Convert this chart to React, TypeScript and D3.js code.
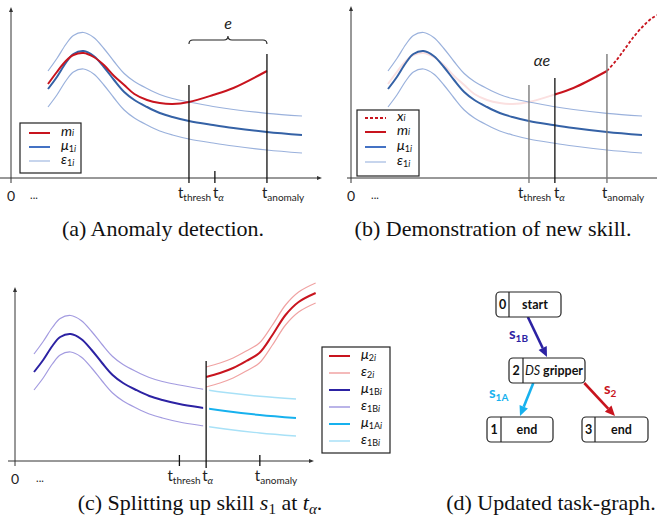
import React from 'react';
import * as d3 from 'd3';

// shared time samples for the skill model (t in % of the demo)
const T = [0, 3.5, 7, 10, 14, 18, 22, 26, 30, 34, 39, 44, 49, 55.5, 65, 73, 86.2, 100];
const MU1 = [89, 101, 115, 124, 127, 122, 111, 98, 86, 78, 71, 65, 61, 57, 53, 50, 46, 43];
const EPS1_UP = [107, 119.5, 133.5, 142.5, 145.5, 140.5, 129.5, 116.5, 104.5, 96.5, 89.5, 83.5, 79.5, 76, 71.5, 68.5, 64.7, 62];
const EPS1_LO = [71, 83, 97, 106, 109, 104, 93, 80, 68, 60, 53, 47, 43, 39, 35, 32, 28, 25];

// measured signal m_i (up to t_anomaly)
const M = [94, 106, 117, 123, 125, 121, 113, 102, 93, 84, 78, 75, 74, 76, 83, 90, 107];

// demonstrated continuation x_i
const XI_T = [86.2, 90, 93.5, 97, 100.5, 104, 107];
const XI = [107, 118, 130, 142, 152, 160, 164];

// new skill s2
const MU2_T = [65.7, 71, 76, 81, 86, 91, 96, 101, 107.5];
const MU2 = [84, 88, 93, 100, 108, 126, 146, 159, 168];
const EPS2_UP = [94, 98, 103, 110, 118, 136, 156, 169, 178];
const EPS2_LO = [74, 78, 83, 90, 98, 116, 136, 149, 158];

const T_THRESH = 55.5;
const T_ALPHA = 65.7;
const T_ANOMALY = 86.2;

// task graph
const NODE_IDS = ['0', '2', '1', '3'];
const NODE_LABELS = ['start', 'gripper', 'end', 'end'];
const EDGES = [
  { from: '0', to: '2', skill: '1B' },
  { from: '2', to: '1', skill: '1A' },
  { from: '2', to: '3', skill: '2' },
];

const FONT = "Lato, 'Noto Sans', sans-serif";
const SERIF = "'Liberation Serif', 'Times New Roman', serif";

const C = {
  red: '#c8141e',
  mu1: '#3562a6',
  mu1Leg: '#4472c4',
  eps1: '#9ab1dc',
  eps1Leg: '#b4c7e7',
  pink: '#fbe0e0',
  gray: '#7a7a7a',
  navy: '#2c22a3',
  epsB: '#a39be0',
  cyan: '#17b1ee',
  epsA: '#a8e1f7',
  eps2: '#f0a3a3',
  axis: '#333',
};

type P = [number, number];
const zip = (ts: number[], vs: number[]): P[] => vs.map((v, i) => [ts[i], v] as P);

function lineFor(x: d3.ScaleLinear<number, number>, y: d3.ScaleLinear<number, number>) {
  return d3.line<P>()
    .x((d) => x(d[0]))
    .y((d) => y(d[1]))
    .curve(d3.curveCatmullRom.alpha(0.5));
}

function TLabel({ x, y, sub, italicSub = false }: any) {
  return (
    <text x={x} y={y} fontFamily={FONT} fontSize={15} fill="#222">
      t
      <tspan dy={3} fontSize={10} fontStyle={italicSub ? 'italic' : 'normal'}>{sub}</tspan>
    </text>
  );
}

function Sym({ x, y, main, sub, tail }: any) {
  return (
    <text x={x} y={y} fontFamily={FONT} fontSize={14} fill="#111">
      <tspan fontStyle="italic">{main}</tspan>
      <tspan dy={2} fontSize={9}>{sub}</tspan>
      <tspan fontSize={9} fontStyle="italic">{tail}</tspan>
    </text>
  );
}

function Axes({ yx, yTop, ay, x0, x1, arrow }: any) {
  return (
    <g stroke={C.axis} strokeWidth={1}>
      <line x1={yx} y1={ay + 5} x2={yx} y2={yTop + 3} />
      <path d={`M${yx},${yTop} l-2,5 h4z`} fill={C.axis} stroke="none" />
      <line x1={x0} y1={ay} x2={x1 - (arrow ? 3 : 0)} y2={ay} />
      {arrow && <path d={`M${x1},${ay} l-5,-2 v4z`} fill={C.axis} stroke="none" />}
    </g>
  );
}

function Legend({ x, y, w, h, rows, lx, tx, dy }: any) {
  return (
    <g>
      <rect x={x} y={y} width={w} height={h} fill="#fff" stroke="#222" strokeWidth={1.2} />
      {rows.map((r: any, i: number) => (
        <g key={i}>
          <line x1={lx} x2={lx + 21} y1={y + dy[i]} y2={y + dy[i]} stroke={r.color}
            strokeWidth={r.w} strokeDasharray={r.dash || null} />
          <Sym x={tx} y={y + dy[i] + 3} main={r.main} sub={r.sub} tail={r.tail} />
        </g>
      ))}
    </g>
  );
}

function PanelA() {
  const x = d3.scaleLinear().domain([0, 100]).range([48, 302]);
  const y = d3.scaleLinear().domain([0, 100]).range([178, 78]);
  const ln = lineFor(x, y);
  const xm = (x(T_THRESH) + x(T_ANOMALY)) / 2;
  return (
    <g>
      <Axes yx={11} yTop={7} ay={178} x0={0} x1={322} arrow />
      <path d={ln(zip(T, EPS1_UP))!} fill="none" stroke={C.eps1} strokeWidth={1.2} />
      <path d={ln(zip(T, EPS1_LO))!} fill="none" stroke={C.eps1} strokeWidth={1.2} />
      <path d={ln(zip(T, MU1))!} fill="none" stroke={C.mu1} strokeWidth={2} />
      <path d={ln(zip(T, M))!} fill="none" stroke={C.red} strokeWidth={2} />
      <g stroke="#111" strokeWidth={1.3}>
        <line x1={x(T_THRESH)} x2={x(T_THRESH)} y1={y(93)} y2={183} />
        <line x1={x(T_ALPHA)} x2={x(T_ALPHA)} y1={171} y2={183} />
        <line x1={x(T_ANOMALY)} x2={x(T_ANOMALY)} y1={y(124)} y2={183} />
      </g>
      <path
        d={`M${x(T_THRESH)},44 Q${x(T_THRESH)},40 ${x(T_THRESH) + 4},40 L${xm - 4},40 Q${xm},40 ${xm},36 Q${xm},40 ${xm + 4},40 L${x(T_ANOMALY) - 4},40 Q${x(T_ANOMALY)},40 ${x(T_ANOMALY)},44`}
        fill="none" stroke="#222" strokeWidth={1.1} />
      <text x={xm} y={29} textAnchor="middle" fontFamily={FONT}
        fontStyle="italic" fontSize={16} fill="#222">e</text>
      <text x={11} y={201} textAnchor="middle" fontFamily={FONT} fontSize={14} fill="#222">0</text>
      <text x={34} y={199} textAnchor="middle" fontFamily={FONT} fontSize={11} fill="#222">...</text>
      <TLabel x={x(T_THRESH) - 11} y={198} sub="thresh" />
      <TLabel x={x(T_ALPHA) - 2} y={198} sub="α" italicSub />
      <TLabel x={x(T_ANOMALY) - 5} y={198} sub="anomaly" />
      <Legend x={20} y={123} w={61} h={50} lx={29} tx={61} dy={[10, 24, 38]}
        rows={[
          { color: C.red, w: 2, main: 'm', sub: '', tail: 'i' },
          { color: C.mu1Leg, w: 2, main: 'μ', sub: '1', tail: 'i' },
          { color: C.eps1Leg, w: 1.5, main: 'ε', sub: '1', tail: 'i' },
        ]} />
      <text x={163} y={236} textAnchor="middle" fontFamily={SERIF} fontSize={22} fill="#111">(a) Anomaly detection.</text>
    </g>
  );
}

function PanelB() {
  const x = d3.scaleLinear().domain([0, 100]).range([388, 642]);
  const y = d3.scaleLinear().domain([0, 100]).range([178, 78]);
  const ln = lineFor(x, y);
  const xa = x(T_ALPHA);
  return (
    <g>
      <defs>
        <clipPath id="b-pre"><rect x={330} y={0} width={xa - 330} height={260} /></clipPath>
        <clipPath id="b-post"><rect x={xa} y={0} width={700 - xa} height={260} /></clipPath>
      </defs>
      <Axes yx={351} yTop={6} ay={178} x0={347} x1={657} arrow={false} />
      <path d={ln(zip(T, M))!} fill="none" stroke={C.pink} strokeWidth={2} clipPath="url(#b-pre)" />
      <path d={ln(zip(T, EPS1_UP))!} fill="none" stroke={C.eps1} strokeWidth={1.2} />
      <path d={ln(zip(T, EPS1_LO))!} fill="none" stroke={C.eps1} strokeWidth={1.2} />
      <path d={ln(zip(T, MU1))!} fill="none" stroke={C.mu1} strokeWidth={2} />
      <path d={ln(zip(T, M))!} fill="none" stroke={C.red} strokeWidth={2} clipPath="url(#b-post)" />
      <path d={ln(zip(XI_T, XI))!} fill="none" stroke={C.red} strokeWidth={1.8} strokeDasharray="3,2" />
      <line x1={x(T_THRESH)} x2={x(T_THRESH)} y1={y(93)} y2={183} stroke={C.gray} strokeWidth={1.4} />
      <line x1={xa} x2={xa} y1={y(100)} y2={183} stroke="#111" strokeWidth={1.3} />
      <line x1={x(T_ANOMALY)} x2={x(T_ANOMALY)} y1={y(124)} y2={183} stroke={C.gray} strokeWidth={1.4} />
      <text x={(x(T_THRESH) + xa) / 2} y={66} textAnchor="middle" fontFamily={FONT}
        fontStyle="italic" fontSize={16} fill="#222">αe</text>
      <text x={351} y={201} textAnchor="middle" fontFamily={FONT} fontSize={14} fill="#222">0</text>
      <text x={375} y={199} textAnchor="middle" fontFamily={FONT} fontSize={11} fill="#222">...</text>
      <TLabel x={x(T_THRESH) - 11} y={198} sub="thresh" />
      <TLabel x={xa - 1} y={198} sub="α" italicSub />
      <TLabel x={x(T_ANOMALY) - 5} y={198} sub="anomaly" />
      <Legend x={357} y={110} w={62} h={66} lx={365} tx={397} dy={[8, 22, 37, 52]}
        rows={[
          { color: C.red, w: 1.8, dash: '3,2', main: 'x', sub: '', tail: 'i' },
          { color: C.red, w: 2, main: 'm', sub: '', tail: 'i' },
          { color: C.mu1Leg, w: 2, main: 'μ', sub: '1', tail: 'i' },
          { color: C.eps1Leg, w: 1.5, main: 'ε', sub: '1', tail: 'i' },
        ]} />
      <text x={493} y={236} textAnchor="middle" fontFamily={SERIF} fontSize={22} fill="#111">(b) Demonstration of new skill.</text>
    </g>
  );
}

function PanelC() {
  const x = d3.scaleLinear().domain([0, 100]).range([34, 296]);
  const y = d3.scaleLinear().domain([0, 100]).range([461, 361]);
  const ln = lineFor(x, y);
  const xa = x(T_ALPHA);
  return (
    <g>
      <defs>
        <clipPath id="c-pre"><rect x={0} y={270} width={xa - 3} height={200} /></clipPath>
        <clipPath id="c-post"><rect x={xa + 3} y={270} width={120} height={200} /></clipPath>
      </defs>
      <Axes yx={15} yTop={287} ay={461} x0={8} x1={314} arrow />
      <g clipPath="url(#c-pre)">
        <path d={ln(zip(T, EPS1_UP))!} fill="none" stroke={C.epsB} strokeWidth={1.2} />
        <path d={ln(zip(T, EPS1_LO))!} fill="none" stroke={C.epsB} strokeWidth={1.2} />
        <path d={ln(zip(T, MU1))!} fill="none" stroke={C.navy} strokeWidth={2} />
      </g>
      <g clipPath="url(#c-post)">
        <path d={ln(zip(T, EPS1_UP))!} fill="none" stroke={C.epsA} strokeWidth={1.4} />
        <path d={ln(zip(T, EPS1_LO))!} fill="none" stroke={C.epsA} strokeWidth={1.4} />
        <path d={ln(zip(T, MU1))!} fill="none" stroke={C.cyan} strokeWidth={2} />
      </g>
      <path d={ln(zip(MU2_T, EPS2_UP))!} fill="none" stroke={C.eps2} strokeWidth={1.2} />
      <path d={ln(zip(MU2_T, EPS2_LO))!} fill="none" stroke={C.eps2} strokeWidth={1.2} />
      <path d={ln(zip(MU2_T, MU2))!} fill="none" stroke={C.red} strokeWidth={2} />
      <g stroke="#111" strokeWidth={1.3}>
        <line x1={x(T_THRESH)} x2={x(T_THRESH)} y1={455} y2={466} />
        <line x1={xa} x2={xa} y1={y(100)} y2={468} />
        <line x1={x(T_ANOMALY)} x2={x(T_ANOMALY)} y1={455} y2={466} />
      </g>
      <text x={15} y={484} textAnchor="middle" fontFamily={FONT} fontSize={14} fill="#222">0</text>
      <text x={40} y={482} textAnchor="middle" fontFamily={FONT} fontSize={11} fill="#222">...</text>
      <TLabel x={x(T_THRESH) - 12} y={481} sub="thresh" />
      <TLabel x={xa - 4} y={481} sub="α" italicSub />
      <TLabel x={x(T_ANOMALY) - 5} y={481} sub="anomaly" />
      <Legend x={322} y={347} w={68} h={106} lx={329} tx={361} dy={[9, 26, 43, 60, 77, 94]}
        rows={[
          { color: C.red, w: 2, main: 'μ', sub: '2', tail: 'i' },
          { color: C.eps2, w: 1.5, main: 'ε', sub: '2', tail: 'i' },
          { color: C.navy, w: 2, main: 'μ', sub: '1B', tail: 'i' },
          { color: C.epsB, w: 1.5, main: 'ε', sub: '1B', tail: 'i' },
          { color: C.cyan, w: 2, main: 'μ', sub: '1A', tail: 'i' },
          { color: C.epsA, w: 1.5, main: 'ε', sub: '1B', tail: 'i' },
        ]} />
      <text x={200} y={510} textAnchor="middle" fontFamily={SERIF} fontSize={22} fill="#111">
        (c) Splitting up skill <tspan fontStyle="italic">s</tspan><tspan dy={4} fontSize={15}>1</tspan>
        <tspan dy={-4}> at </tspan><tspan fontStyle="italic">t</tspan><tspan dy={4} fontSize={15} fontStyle="italic">α</tspan><tspan dy={-4}>.</tspan>
      </text>
    </g>
  );
}

// layout of the task graph: x, y, width, divider offset
const NODE_BOX: Record<string, number[]> = {
  '0': [496, 292, 65, 13],
  '2': [509, 358, 76, 14],
  '1': [487, 417, 66, 14],
  '3': [582, 417, 66, 13],
};
const NODE_H = 25;
const EDGE_SRC_FRAC: Record<string, number> = { '1B': 0.49, '1A': 0.32, '2': 0.99 };
const EDGE_COLOR: Record<string, string> = { '1B': C.navy, '1A': C.cyan, '2': C.red };
const EDGE_LABEL_POS: Record<string, number[]> = { '1B': [509, 339], '1A': [489, 398], '2': [604, 394] };

function PanelD() {
  return (
    <g>
      {EDGES.map((e) => {
        const s = NODE_BOX[e.from];
        const t = NODE_BOX[e.to];
        const x1 = s[0] + s[2] * EDGE_SRC_FRAC[e.skill];
        const y1 = s[1] + NODE_H;
        const x2 = t[0] + t[2] / 2;
        const y2 = t[1] - 1;
        const a = Math.atan2(y2 - y1, x2 - x1);
        const L = 10, hw = 4.5;
        const bx = x2 - L * Math.cos(a), by = y2 - L * Math.sin(a);
        const px = -Math.sin(a) * hw, py = Math.cos(a) * hw;
        const col = EDGE_COLOR[e.skill];
        const lp = EDGE_LABEL_POS[e.skill];
        return (
          <g key={e.skill}>
            <line x1={x1} y1={y1} x2={bx} y2={by} stroke={col} strokeWidth={2.6} />
            <path d={`M${x2},${y2} L${bx + px},${by + py} L${bx - px},${by - py} Z`} fill={col} />
            <text x={lp[0]} y={lp[1]} fontFamily={FONT} fontWeight="bold" fontSize={15} fill={col}>
              s<tspan dy={3} fontSize={10}>{e.skill}</tspan>
            </text>
          </g>
        );
      })}
      {NODE_IDS.map((id, i) => {
        const b = NODE_BOX[id];
        const cy = b[1] + NODE_H / 2 + 4.5;
        const dx = b[0] + b[3];
        return (
          <g key={id}>
            <rect x={b[0]} y={b[1]} width={b[2]} height={NODE_H} rx={4} fill="#fff" stroke="#222" strokeWidth={1.2} />
            <line x1={dx} x2={dx} y1={b[1]} y2={b[1] + NODE_H} stroke="#222" strokeWidth={1.2} />
            <text x={(b[0] + dx) / 2} y={cy} textAnchor="middle" fontFamily={FONT} fontWeight="bold" fontSize={12.5} fill="#111">{id}</text>
            <text x={(dx + b[0] + b[2]) / 2} y={cy} textAnchor="middle" fontFamily={FONT} fontSize={12.5} fill="#111">
              {id === '2' && <tspan fontStyle="italic">DS </tspan>}
              <tspan fontWeight="bold">{NODE_LABELS[i]}</tspan>
            </text>
          </g>
        );
      })}
      <text x={551} y={510} textAnchor="middle" fontFamily={SERIF} fontSize={22} fill="#111">(d) Updated task-graph.</text>
    </g>
  );
}

export default function App() {
  return (
    <svg width={657} height={520} viewBox="0 0 657 520"
      style={{ position: 'absolute', left: 0, top: 0, background: '#fff' }}>
      <rect x={0} y={0} width={657} height={520} fill="#fff" />
      <PanelA />
      <PanelB />
      <PanelC />
      <PanelD />
    </svg>
  );
}
